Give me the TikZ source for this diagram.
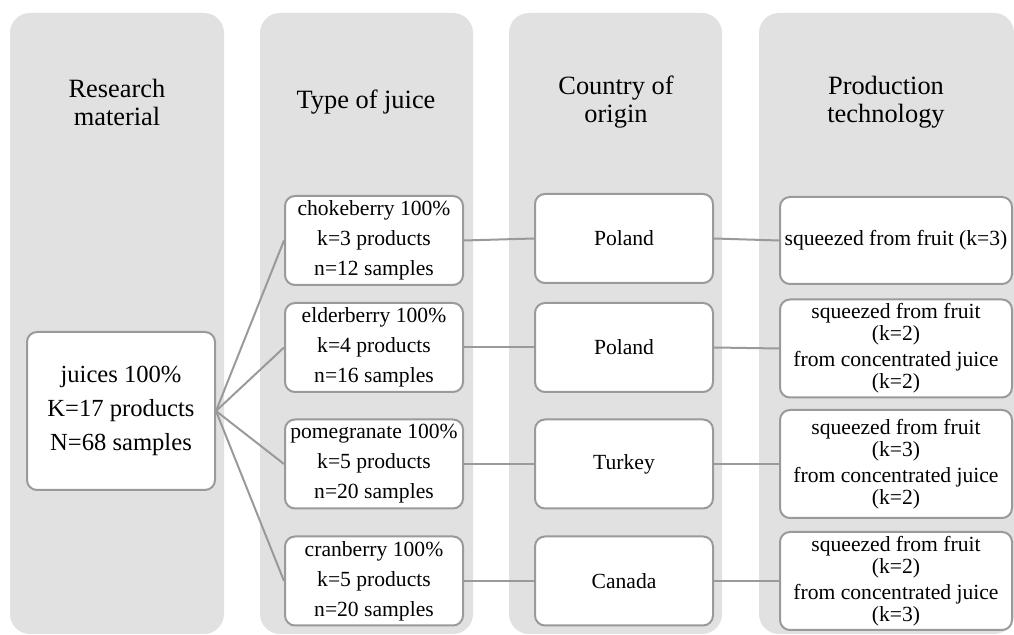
\documentclass[tikz,border=0pt]{standalone}
\usepackage{fontspec}
\setmainfont{Liberation Serif}
\usetikzlibrary{positioning}
\definecolor{colgray}{HTML}{E1E1E1}
\definecolor{edgegray}{HTML}{9A9A9A}
\tikzset{
  column bg/.style={fill=colgray, draw=none, rounded corners=10pt},
  column title/.style={align=center, font=\fontsize{13.2}{14}\selectfont},
  item box/.style={draw=edgegray, line width=1pt, fill=white, rounded corners=5pt,
    align=center, inner sep=2pt, minimum width=89pt, minimum height=44.5pt,
    font=\fontsize{10.8}{15}\selectfont},
  tech box/.style={item box, minimum width=116pt, font=\fontsize{10.8}{11}\selectfont},
  link/.style={draw=edgegray, line width=1pt}
}

\begin{document}
\begin{tikzpicture}[x=0.5pt,y=-0.5pt]
  \useasboundingbox (0,0) rectangle (1014,635);

  % grey columns
  \fill[column bg] (10,13) rectangle (224,634);
  \fill[column bg] (260,13) rectangle (473,634);
  \fill[column bg] (509,13) rectangle (722,634);
  \fill[column bg] (759,13) rectangle (1014,634);

  \node (material_title) [column title] at (117,102) {Research\\material};
  \node (juice_title) [column title] at (366,102) {Type of juice};
  \node (country_title) [column title] at (616,102) {Country of\\origin};
  \node (tech_title) [column title] at (886,102) {Production\\technology};

  % research material
  \node (juices) [item box, minimum width=94pt, minimum height=79pt,
    font=\fontsize{12.3}{17}\selectfont] at (121,411)
    {juices 100\%\\K=17 products\\N=68 samples};

  % type of juice
  \node (chokeberry) [item box] at (374,240.5) {chokeberry 100\%\\k=3 products\\n=12 samples};
  \node (elderberry) [item box] at (374,347.5) {elderberry 100\%\\k=4 products\\n=16 samples};
  \node (pomegranate) [item box] at (374,464) {pomegranate 100\%\\k=5 products\\n=20 samples};
  \node (cranberry) [item box] at (374,581) {cranberry 100\%\\k=5 products\\n=20 samples};

  % country of origin
  \node (poland_a) [item box] at (624,238.5) {Poland};
  \node (poland_b) [item box] at (624,347.5) {Poland};
  \node (turkey) [item box] at (624,464) {Turkey};
  \node (canada) [item box] at (624,581) {Canada};

  % production technology
  \node (tech_a) [tech box, minimum height=43.5pt] at (896,240.5) {squeezed from fruit (k=3)};
  \node (tech_b) [tech box, minimum height=49pt] at (896,348.5)
    {squeezed from fruit\\(k=2)\\[2pt]from concentrated juice\\(k=2)};
  \node (tech_c) [tech box, minimum height=54pt] at (896,464)
    {squeezed from fruit\\(k=3)\\[2pt]from concentrated juice\\(k=2)};
  \node (tech_d) [tech box, minimum height=49pt] at (896,581)
    {squeezed from fruit\\(k=2)\\[2pt]from concentrated juice\\(k=3)};

  % connectors
  \foreach \j in {chokeberry,elderberry,pomegranate,cranberry}
    \draw[link] (juices.east) -- (\j.west);
  \draw[link] (chokeberry.east) -- (poland_a.west);
  \draw[link] (elderberry.east) -- (poland_b.west);
  \draw[link] (pomegranate.east) -- (turkey.west);
  \draw[link] (cranberry.east) -- (canada.west);
  \draw[link] (poland_a.east) -- (tech_a.west);
  \draw[link] (poland_b.east) -- (tech_b.west);
  \draw[link] (turkey.east) -- (tech_c.west);
  \draw[link] (canada.east) -- (tech_d.west);
\end{tikzpicture}
\end{document}
